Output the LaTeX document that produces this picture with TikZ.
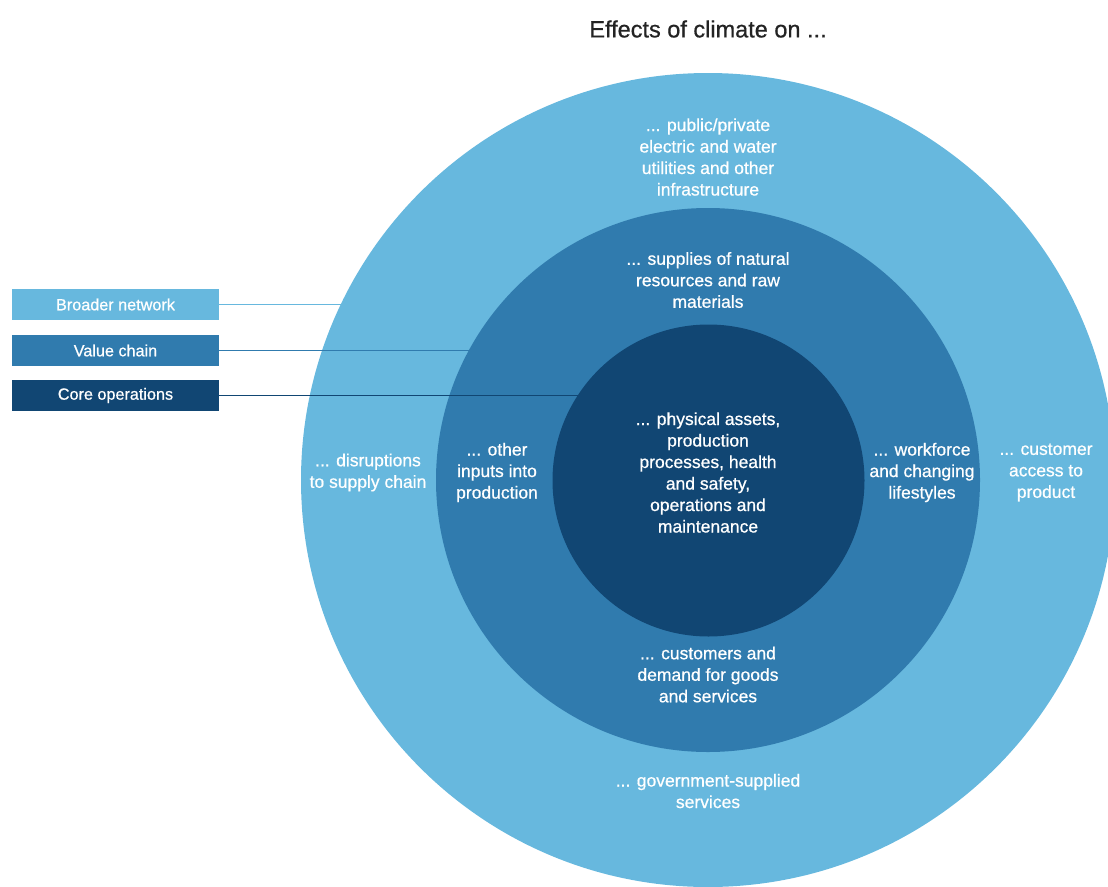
\documentclass[tikz,border=0pt]{standalone}
\usepackage{fontspec}
\setmainfont{Liberation Sans}
\newfontfamily\medfont{Liberation Sans}[FakeBold=0.7]
\definecolor{lightb}{RGB}{103,184,222}
\definecolor{midb}{RGB}{48,123,174}
\definecolor{darkb}{RGB}{17,70,115}
\definecolor{titlec}{RGB}{35,35,35}
\begin{document}
\begin{tikzpicture}[x=1pt,y=-1pt,
  ring/.style={circle, inner sep=0pt, draw=none},
  legendbox/.style={rectangle, minimum width=207pt, minimum height=31pt, inner sep=0pt, text=white, font=\medfont\fontsize{16.2}{19}\selectfont},
  lbl/.style={align=center, text=white, inner sep=0pt, font=\medfont\fontsize{17.5}{21.5}\selectfont},
  link/.style={line width=1.4pt}
]
\useasboundingbox (0,0) rectangle (1108,886);
\clip (0,0) rectangle (1108,886);
\node[ring, fill=lightb, minimum size=814pt] (outer) at (708,480) {};
\node[ring, fill=midb, minimum size=544pt] (middle) at (708,480) {};
\node[ring, fill=darkb, minimum size=312pt] (inner) at (708.5,480.5) {};

\node[text=titlec, font=\medfont\fontsize{23.5}{27}\selectfont] (title) at (708,29) {Effects of climate on ...};

\node[legendbox, fill=lightb] (bn) at (115.5,304.5) {Broader network};
\node[legendbox, fill=midb] (vc) at (115.5,350.5) {Value chain};
\node[legendbox, fill=darkb] (co) at (115.5,395.5) {Core operations};

\coordinate (bnend) at (340.8,304.5);
\coordinate (vcend) at (469,350.5);
\coordinate (coend) at (577.7,395.5);
\draw[link, draw=lightb] (bn.east) -- (bnend);
\draw[link, draw=midb] (vc.east) -- (vcend);
\draw[link, draw=darkb] (co.east) -- (coend);

\node[lbl] (t1) at (708,157) {... public/private\\electric and water\\utilities and other\\infrastructure};
\node[lbl] (t2) at (708,280) {... supplies of natural\\resources and raw\\materials};
\node[lbl] (t3) at (708,472.5) {... physical assets,\\production\\processes, health\\and safety,\\operations and\\maintenance};
\node[lbl] (t4) at (368,472.5) {... disruptions\\to supply chain};
\node[lbl] (t5) at (497,472.5) {... other\\inputs into\\production};
\node[lbl] (t6) at (922,472.5) {... workforce\\and changing\\lifestyles};
\node[lbl] (t7) at (1046,472.5) {... customer\\access to\\product};
\node[lbl] (t8) at (708,674.5) {... customers and\\demand for goods\\and services};
\node[lbl] (t9) at (708,791) {... government-supplied\\services};
\end{tikzpicture}
\end{document}
